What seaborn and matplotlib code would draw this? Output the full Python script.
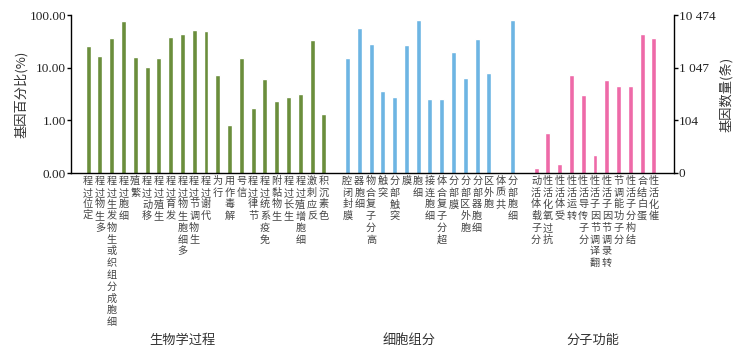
import numpy as np
import pandas as pd
import matplotlib
matplotlib.use('Agg')
import matplotlib.pyplot as plt
import seaborn as sns

# GO terms and percentage of annotated genes
bp_terms = ["定位过程", "多生物过程", "细胞成分组织或生物发生过程", "细胞过程", "繁殖",
            "移动过程", "生殖过程", "发育过程", "多细胞生物过程", "生物调节过程",
            "代谢过程", "行为", "解毒作用", "信号", "节律过程", "免疫系统过程",
            "生物黏附", "生长过程", "细胞增殖过程", "反应刺激", "色素沉积"]
bp_pct = [25.9, 17.0, 36.2, 77.3, 15.8, 10.3, 15.3, 37.8, 43.8, 53.0, 50.7,
          7.27, 0.80, 15.5, 1.71, 6.1, 2.33, 2.74, 3.12, 33.2, 1.30]

cc_terms = ["膜封闭腔", "细胞器", "高分子复合物", "突触", "突触部分", "膜", "细胞",
            "细胞连接", "超分子复合体", "膜部分", "胞外区部分", "细胞器部分",
            "胞外区", "共质体", "细胞部分"]
cc_pct = [15.5, 57.8, 28.7, 3.67, 2.74, 26.7, 79.6, 2.54, 2.51, 19.6, 6.29,
          35.7, 7.94, 0.0, 79.6]

mf_terms = ["分子载体活动", "抗过氧化活性", "受体活性", "转运活性", "分子传导活性",
            "翻译调节因子活性", "转录调节因子活性", "分子功能调节", "结构分子活性",
            "蛋白结合", "催化活性"]
mf_pct = [0.124, 0.566, 0.150, 7.27, 2.99, 0.216, 5.94, 4.56, 4.56, 43.7, 36.2]

group_names = ["生物学过程", "细胞组分", "分子功能"]
group_colors = ["#6b8e3c", "#6db5e3", "#ee6aa8"]
total_genes = 10474

left_ticks = [0.1, 1, 10, 100]
left_labels = ["0.00", "1.00", "10.00", "100.00"]
right_labels = ["0", "104", "1 047", "10 474"]

# build one long table with an empty slot between groups
rows = []
order = []
for gi, (name, terms, vals) in enumerate(zip(group_names, [bp_terms, cc_terms, mf_terms],
                                             [bp_pct, cc_pct, mf_pct])):
    if gi > 0:
        order.append(" " * gi)
    for t, v in zip(terms, vals):
        rows.append({"term": t, "pct": v, "group": name})
        order.append(t)
df = pd.DataFrame(rows)

sns.set_theme(style="white")
cjk = ["Noto Sans CJK SC", "DejaVu Sans"]
num_font = ["Liberation Serif", "DejaVu Serif"]
plt.rcParams["font.family"] = cjk

fig = plt.figure(figsize=(7.54, 3.55), dpi=100)
ax = fig.add_axes([71 / 754, 1 - 173 / 355, (674 - 71) / 754, (173 - 15) / 355])

sns.barplot(data=df, x="term", y="pct", hue="group", order=order,
            hue_order=group_names, palette=group_colors, dodge=False,
            saturation=1, width=0.42, legend=False, ax=ax)

ax.set_yscale("log")
ax.set_ylim(0.1, 100)
ax.set_xlim(-1.45, len(order) - 1 + 1.7)
ax.set_yticks(left_ticks)
ax.set_yticklabels(left_labels, family=num_font, fontsize=9.5, color="#222222")
ax.minorticks_off()
ax.tick_params(axis="y", direction="out", length=3, width=1, color="black", pad=0.5)

ax.set_xticks(range(len(order)))
ax.set_xticklabels(["\n".join(t[::-1]) for t in order], fontsize=7.3,
                   linespacing=1.22, va="top", color="#444444", family=cjk)
ax.tick_params(axis="x", length=0, pad=2)
ax.set_xlabel("")
ax.set_ylabel("基因百分比(%)", fontsize=9.5, color="#333333", labelpad=1)

for side in ["left", "bottom"]:
    ax.spines[side].set_color("black")
    ax.spines[side].set_linewidth(1)
ax.spines["top"].set_visible(False)
ax.spines["right"].set_visible(False)

# right axis: gene counts
ax2 = ax.twinx()
ax2.set_yscale("log")
ax2.set_ylim(0.1 * total_genes / 100, total_genes)
ax2.set_yticks([v * total_genes / 100 for v in left_ticks])
ax2.set_yticklabels(right_labels, family=num_font, fontsize=9.5, color="#222222")
ax2.minorticks_off()
ax2.tick_params(axis="y", direction="out", length=3, width=1, color="black", pad=0.5)
ax2.set_ylabel("基因数量(条)", fontsize=9.5, color="#333333", rotation=90, labelpad=3)
for side in ["top", "left", "bottom"]:
    ax2.spines[side].set_visible(False)
ax2.spines["right"].set_color("black")
ax2.spines["right"].set_linewidth(1)

# group captions under each block
caption_x = [182 / 754, 409 / 754, 593 / 754]
for cx, name in zip(caption_x, group_names):
    fig.text(cx, 1 - 340 / 355, name, ha="center", va="center",
             fontsize=9.5, color="#333333")

fig.savefig("out.png", dpi=100)
